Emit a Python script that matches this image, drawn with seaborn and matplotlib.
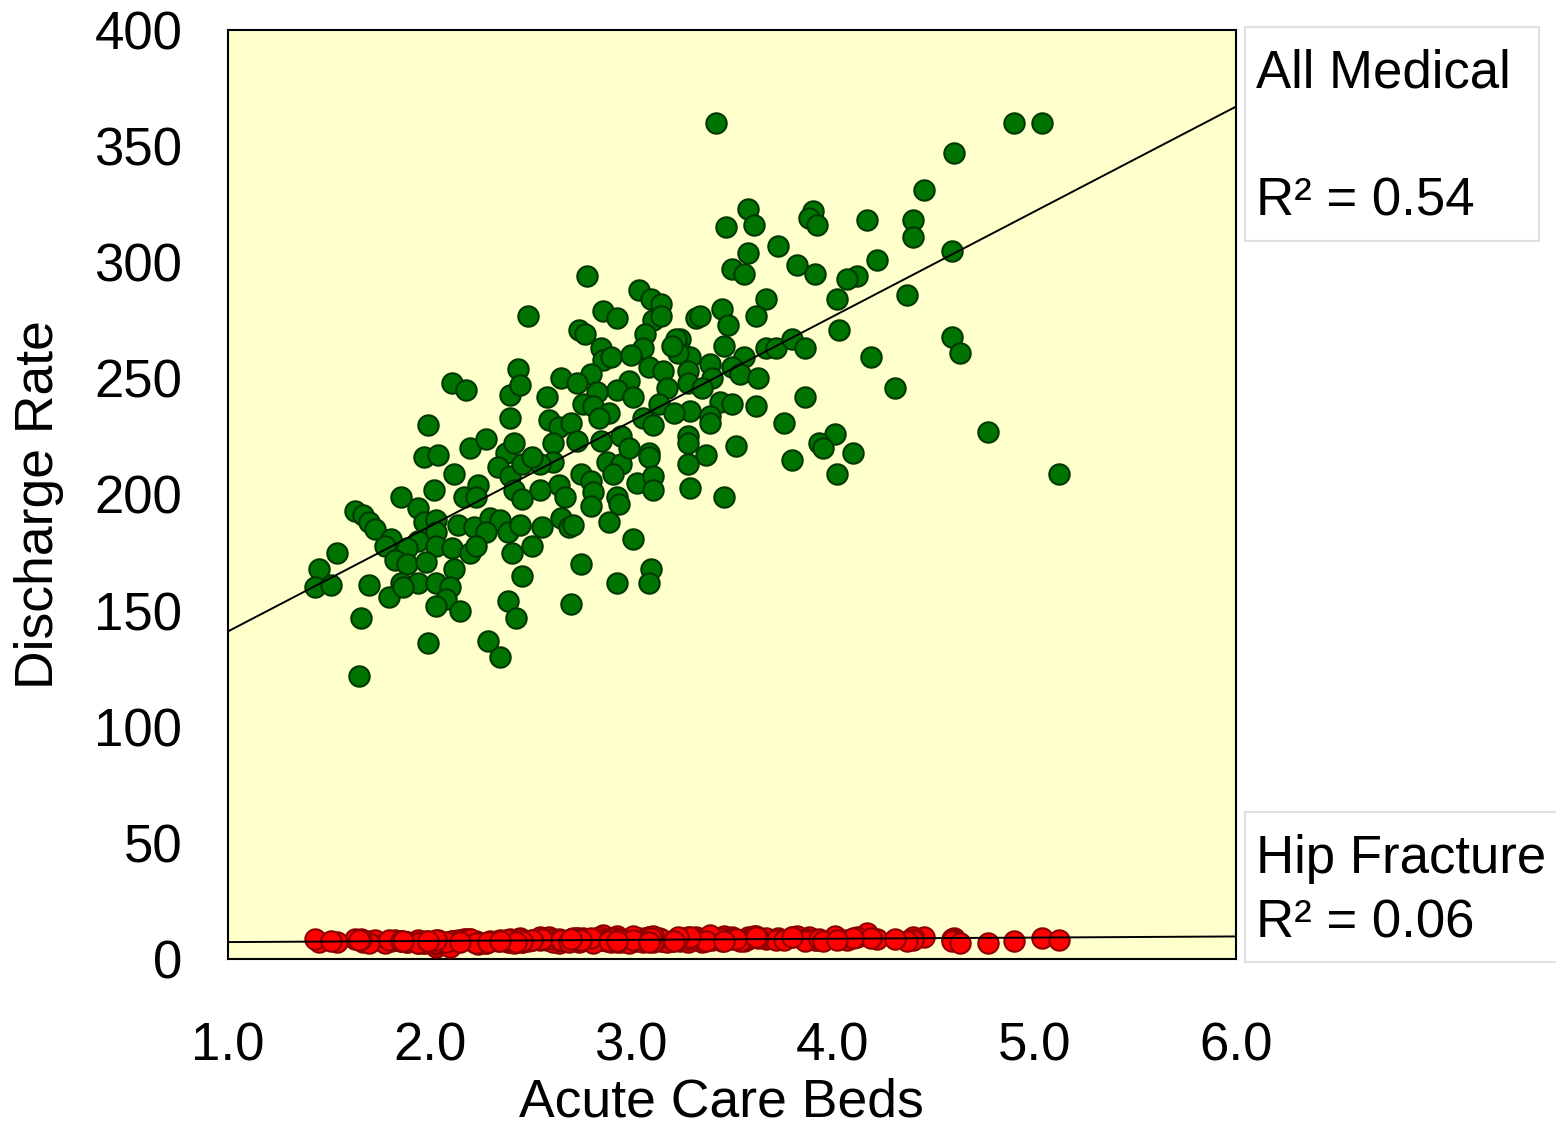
import matplotlib
matplotlib.use("Agg")
import matplotlib.pyplot as plt
from matplotlib.patches import Rectangle
import seaborn as sns
import pandas as pd

# ---------------- data ----------------
acute_care_beds = [
    3.42, 4.90, 5.04, 4.60, 4.45, 3.58, 3.47, 3.61, 3.90, 3.88,
    3.92, 4.17, 4.40, 4.40, 3.73, 3.58, 4.59, 3.82, 3.91, 3.50,
    3.56, 4.22, 4.12, 4.07, 4.02, 4.37, 3.67, 3.62, 3.45, 3.48,
    3.32, 3.34, 3.46, 4.03, 4.59, 4.63, 3.67, 3.72, 3.80, 3.86,
    3.24, 3.24, 3.29, 3.39, 3.56, 3.50, 3.54, 3.63, 3.40, 3.28,
    3.28, 3.35, 4.19, 4.31, 3.86, 3.44, 3.50, 3.62, 3.29, 3.39,
    3.39, 3.76, 4.01, 3.93, 3.95, 4.10, 4.77, 3.52, 3.37, 3.80,
    4.02, 5.12, 3.28, 3.28, 3.28, 3.29, 3.46,
    2.78, 3.04, 3.10, 3.15, 3.11, 3.15, 2.86, 2.93, 2.74, 2.77,
    3.07, 3.06, 3.22, 3.23, 3.20, 2.85, 2.86, 2.90, 3.00, 3.09,
    3.16, 2.80, 2.65, 2.73, 2.99, 2.93, 2.83, 3.01, 3.18, 2.58,
    2.76, 2.81, 2.89, 2.84, 3.06, 3.11, 3.14, 3.21, 2.59, 2.64,
    2.70, 2.61, 2.73, 2.85, 2.95, 2.61, 2.55, 2.88, 2.95, 2.99,
    3.09, 3.09, 2.75, 2.80, 2.81, 2.80, 2.64, 2.67, 2.55, 2.91,
    2.93, 2.94, 3.03, 3.11, 3.11, 2.56, 2.65, 2.69, 2.71, 2.89,
    3.01,
    2.75, 2.93, 3.10, 3.09, 2.70, 2.49, 2.44,
    2.11, 2.18, 2.40, 2.45, 1.99, 1.97, 2.04, 2.12, 2.20, 2.28,
    2.40, 2.38, 2.42, 2.34, 2.40, 2.46, 2.51, 2.02, 1.86, 2.17,
    2.24, 2.23, 2.42, 2.46, 1.94, 1.63, 1.67, 1.70, 1.73, 1.97,
    2.03, 2.03, 2.14, 2.22, 2.30, 2.35, 2.28, 2.39, 2.45, 1.81,
    1.78, 1.94, 1.89, 2.03, 2.11, 2.20, 2.23, 2.41, 2.51, 1.54,
    1.83, 1.89, 1.98, 2.12, 1.45, 1.43, 1.51, 1.70, 1.80, 1.86,
    1.94, 1.87, 2.03, 2.10, 2.08, 2.03, 2.15, 2.46, 2.39, 2.43,
    1.66, 1.99, 2.29, 2.35, 1.65,
]

all_medical_rate = [
    360, 360, 360, 347, 331, 323, 315, 316, 322, 319,
    316, 318, 318, 311, 307, 304, 305, 299, 295, 297,
    295, 301, 294, 293, 284, 286, 284, 277, 280, 273,
    276, 277, 264, 271, 268, 261, 263, 263, 267, 263,
    267, 262, 259, 256, 259, 255, 252, 250, 250, 253,
    248, 246, 259, 246, 242, 240, 239, 238, 236, 234,
    231, 231, 226, 222, 220, 218, 227, 221, 217, 215,
    209, 209, 225, 222, 213, 203, 199,
    294, 288, 284, 282, 275, 277, 279, 276, 271, 269,
    269, 263, 267, 261, 264, 263, 258, 259, 260, 255,
    253, 252, 250, 248, 249, 245, 244, 242, 246, 242,
    239, 238, 235, 233, 233, 230, 239, 235, 232, 229,
    231, 222, 223, 223, 225, 214, 213, 214, 213, 220,
    218, 216, 209, 206, 201, 195, 204, 199, 202, 209,
    199, 196, 205, 208, 202, 186, 190, 186, 187, 188,
    181,
    170, 162, 168, 162, 153, 277, 254,
    248, 245, 243, 247, 230, 216, 217, 209, 220, 224,
    233, 218, 222, 212, 208, 213, 216, 202, 199, 199,
    204, 199, 202, 198, 194, 193, 191, 188, 185, 188,
    189, 184, 187, 186, 190, 189, 184, 184, 187, 181,
    178, 180, 177, 178, 177, 175, 178, 175, 178, 175,
    172, 170, 171, 168, 168, 160, 161, 161, 156, 162,
    162, 160, 162, 160, 155, 152, 150, 165, 154, 147,
    147, 136, 137, 130, 122,
]

hip_fracture_rate = [
    9.2, 7.9, 8.9, 9.0, 9.6, 9.4, 8.8, 9.9, 8.6, 9.3,
    8.1, 11.0, 9.5, 8.2, 9.0, 8.5, 8.8, 9.7, 8.3, 9.1,
    7.9, 8.6, 9.4, 8.0, 9.2, 7.9, 8.7, 9.8, 7.8, 8.9,
    9.3, 8.4, 10.1, 8.5, 7.9, 6.8, 9.0, 8.2, 9.5, 8.8,
    7.6, 9.2, 8.4, 9.9, 8.1, 9.4, 7.7, 8.9, 8.3, 9.6,
    8.0, 7.5, 9.1, 8.4, 7.8, 9.0, 8.6, 9.3, 7.9, 8.8,
    10.3, 8.1, 9.7, 8.4, 7.6, 9.2, 6.8, 8.7, 7.9, 9.4,
    8.0, 8.2, 9.0, 7.4, 8.5, 9.6, 7.8,
    8.3, 9.1, 7.6, 8.8, 9.5, 7.9, 8.2, 9.7, 7.4, 8.6,
    9.0, 7.8, 8.4, 9.3, 7.7, 8.9, 10.2, 7.5, 8.1, 9.4,
    7.9, 8.7, 7.3, 9.2, 8.0, 7.6, 8.5, 9.8, 7.2, 8.3,
    9.0, 7.7, 8.6, 9.5, 7.4, 8.2, 8.9, 7.8, 9.3, 6.9,
    8.4, 7.5, 9.1, 8.0, 7.3, 8.7, 9.6, 7.9, 8.2, 7.1,
    8.8, 9.4, 7.6, 8.3, 7.0, 9.0, 8.5, 7.7, 8.1, 9.2,
    7.4, 8.6, 7.9, 9.7, 7.2, 8.4, 8.0, 7.5, 8.9, 7.8,
    8.3,
    8.1, 7.6, 9.0, 7.3, 8.5, 7.9, 8.7,
    7.8, 8.4, 7.2, 8.9, 7.5, 6.9, 8.1, 7.4, 8.6, 7.0,
    7.9, 8.3, 6.8, 7.6, 8.8, 7.3, 8.0, 7.1, 7.7, 8.5,
    6.6, 7.9, 8.2, 7.4, 7.0, 8.7, 7.5, 7.8, 8.1, 6.7,
    5.2, 7.6, 8.3, 7.2, 7.9, 8.0, 6.9, 7.4, 8.6, 7.7,
    7.1, 8.2, 7.5, 6.4, 7.8, 8.4, 7.0, 7.6, 8.1, 7.3,
    8.0, 7.4, 7.9, 6.8, 7.2, 8.5, 7.7, 7.0, 8.3, 7.6,
    7.1, 7.9, 6.9, 5.0, 7.5, 8.2, 7.3, 7.8, 8.0, 7.4,
    8.6, 7.7, 7.2, 7.9, 8.1,
]

x_ticks = [1.0, 2.0, 3.0, 4.0, 5.0, 6.0]
x_tick_labels = ["1.0", "2.0", "3.0", "4.0", "5.0", "6.0"]
y_ticks = [0, 50, 100, 150, 200, 250, 300, 350, 400]

series_names = ["All Medical", "Hip Fracture"]
r2_labels = ["R\u00b2 = 0.54", "R\u00b2 = 0.06"]

df = pd.DataFrame({
    "beds": acute_care_beds,
    "medical": all_medical_rate,
    "hip": hip_fracture_rate,
})

# ---------------- figure ----------------
plt.rcParams["font.family"] = ["Liberation Sans", "DejaVu Sans"]

fig = plt.figure(figsize=(15.56, 11.32), dpi=100)
ax = fig.add_axes([228 / 1556, 1 - 959 / 1132, (1236 - 228) / 1556, (959 - 30) / 1132])
ax.set_facecolor("#ffffcc")
ax.set_xlim(1, 6)
ax.set_ylim(0, 400)

sns.scatterplot(data=df, x="beds", y="hip", ax=ax, s=215, color="#ff0000",
                edgecolor="#8b0000", linewidth=1.5, zorder=3, legend=False)
sns.scatterplot(data=df, x="beds", y="medical", ax=ax, s=215, color="#007400",
                edgecolor="#003800", linewidth=1.5, zorder=3, legend=False)

sns.regplot(data=df, x="beds", y="medical", ax=ax, scatter=False, ci=None,
            truncate=False, line_kws=dict(color="black", lw=1.4, zorder=4))
sns.regplot(data=df, x="beds", y="hip", ax=ax, scatter=False, ci=None,
            truncate=False, line_kws=dict(color="black", lw=1.4, zorder=4))

ax.set_xlim(1, 6)
ax.set_ylim(0, 400)
ax.set_xticks(x_ticks)
ax.set_xticklabels(x_tick_labels)
ax.set_yticks(y_ticks)
ax.tick_params(axis="both", length=0, labelsize=38)
ax.tick_params(axis="x", pad=45)
ax.tick_params(axis="y", pad=33)
for sp in ax.spines.values():
    sp.set_color("black")
    sp.set_linewidth(1.5)

ax.set_xlabel("Acute Care Beds", fontsize=38.5)
ax.set_ylabel("Discharge Rate", fontsize=38.5)
ax.xaxis.set_label_coords(0.489, -0.170)
ax.xaxis.label.set_va("baseline")
ax.yaxis.set_label_coords(-0.163, 0.489)

# ---------------- annotation boxes ----------------
def fx(px):
    return px / 1556

def fy(py):
    return 1 - py / 1132

fig.patches.append(Rectangle((fx(1245), fy(240.7)), fx(1538.7) - fx(1245),
                             fy(26.7) - fy(240.7), transform=fig.transFigure,
                             facecolor="white", edgecolor="#e0e0e0", lw=1.5))
fig.patches.append(Rectangle((fx(1245), fy(961.7)), fx(1570) - fx(1245),
                             fy(811.7) - fy(961.7), transform=fig.transFigure,
                             facecolor="white", edgecolor="#e0e0e0", lw=1.5,
                             clip_on=False))

fig.text(fx(1256), fy(88), series_names[0], fontsize=38, va="baseline", ha="left")
fig.text(fx(1256), fy(215), r2_labels[0], fontsize=38, va="baseline", ha="left")
fig.text(fx(1256), fy(873), series_names[1], fontsize=38, va="baseline", ha="left")
fig.text(fx(1256), fy(937), r2_labels[1], fontsize=38, va="baseline", ha="left")

fig.savefig("out.png", dpi=100, facecolor="white")
